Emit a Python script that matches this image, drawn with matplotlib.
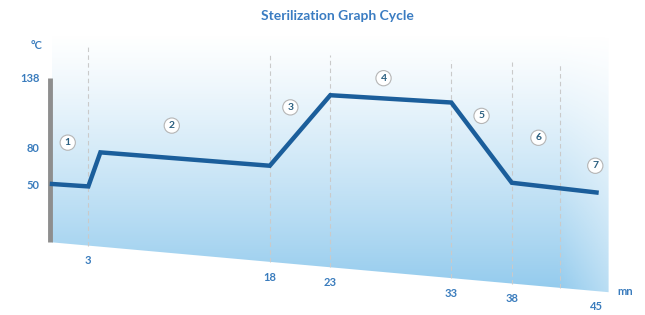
import numpy as np
import matplotlib.pyplot as plt
from matplotlib.patches import Polygon

plt.rcParams['font.family'] = ['Lato', 'DejaVu Sans']

# Temperature profile (minutes, deg C) as drawn in the picture
time_min = [0, 3, 4, 18, 23, 33, 38, 45]
temp_c = [51, 49, 77, 66, 124, 118, 52, 44]

# Axis labels
y_ticks = [138, 80, 50]
x_ticks = [3, 18, 23, 33, 38, 45]

# Phase boundaries (dashed) and phase markers
phase_bounds = [3, 18, 23, 33, 38, 42]
phase_ids = ['1', '2', '3', '4', '5', '6', '7']
phase_t = [1.3, 9.9, 19.7, 27.4, 35.5, 40.2, 44.9]
phase_temp = [85, 99, 114, 138, 107, 89, 66]

# slanted floor / ceiling of the pseudo-3D panel
edge_t = [0, 46]
floor_c = [3, -38]
ceil_c = [166, 148]

blue = '#1b5e9b'
label_blue = '#3a7cbd'

fig = plt.figure(figsize=(6.45, 3.15), dpi=100)
ax = fig.add_axes([0, 0, 1, 1])
ax.set_xlim(-52 / 12.1, 593 / 12.1)
ax.set_ylim(-69 / 1.216, 246 / 1.216)
ax.axis('off')

# gradient panel clipped to the slanted area
panel = Polygon([(edge_t[0], 175), (edge_t[1], 175), (edge_t[1], floor_c[1]),
                 (edge_t[0], floor_c[0])], closed=True, fc='none', ec='none')
ax.add_patch(panel)
tt = np.linspace(edge_t[0], edge_t[1], 200)
cc = np.linspace(175, -40, 300)
T, C = np.meshgrid(tt, cc)
frac = np.clip((175 - C) / 213, 0, 1)
alpha = frac ** 1.2 * 0.85 * (1 - 0.35 * np.clip((T - 42) / 4, 0, 1))
img = np.zeros(T.shape + (4,))
img[..., 0], img[..., 1], img[..., 2] = 0.50, 0.76, 0.92
img[..., 3] = alpha
im = ax.imshow(img, extent=[edge_t[0], edge_t[1], -40, 175], aspect='auto',
               origin='upper', zorder=1)
im.set_clip_path(panel)

# dashed phase separators
for b in phase_bounds:
    top = np.interp(b, edge_t, ceil_c)
    bot = np.interp(b, edge_t, floor_c)
    ax.plot([b, b], [bot, top], color='#cacaca', lw=0.8, ls=(0, (4, 3)), zorder=2)

# vertical grey axis bar
ax.plot([-0.2, -0.2], [floor_c[0], 138], color='#8e8e8e', lw=3.5,
        solid_capstyle='butt', zorder=3)

# temperature curve
ax.plot(time_min, temp_c, color=blue, lw=3.2, solid_joinstyle='miter', zorder=4)

# y labels
for v in y_ticks:
    ax.text(-1.0, v, str(v), ha='right', va='center', fontsize=8,
            fontweight='bold', color=label_blue)
ax.text(-0.8, 165, '°C', ha='right', va='center', fontsize=8,
        fontweight='bold', color=label_blue)

# x labels under the slanted floor
for v in x_ticks:
    ax.text(v, np.interp(v, edge_t, floor_c) - 12.5, str(v), ha='center',
            va='center', fontsize=8, fontweight='bold', color=label_blue)
ax.text(47.4, -37.8, 'mn', ha='center', va='center', fontsize=8,
        fontweight='bold', color=label_blue)

# circled phase numbers
for pid, pt, pc in zip(phase_ids, phase_t, phase_temp):
    ax.text(pt, pc, pid, ha='center', va='center', fontsize=7.5,
            fontweight='bold', color='#2a5f80', zorder=5,
            bbox=dict(boxstyle='circle,pad=0.3', fc='white', ec='#b5b5b5', lw=0.8))

ax.text(23.6, 189, 'Sterilization Graph Cycle', ha='center', va='center',
        fontsize=10, fontweight='bold', color='#3a7cc2')

fig.savefig('out.png', dpi=100)
